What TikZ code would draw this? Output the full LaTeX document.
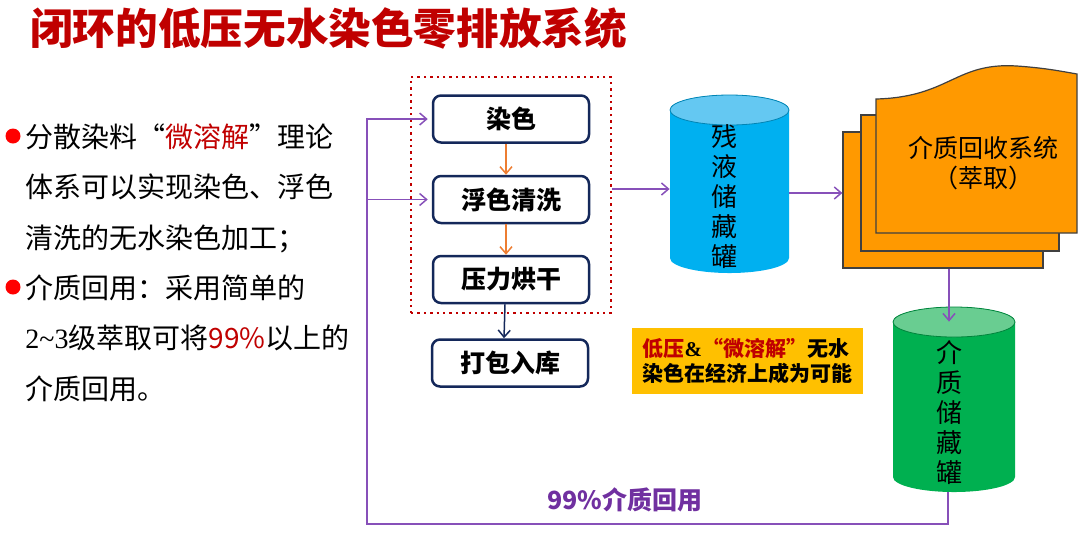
\documentclass[tikz,border=0pt]{standalone}
\usepackage{fontspec}
\setmainfont{Noto Sans CJK SC}
\newfontfamily\latinserif{Liberation Serif}
\usepackage{xcolor}
\usetikzlibrary{arrows.meta, positioning}
\definecolor{titlered}{RGB}{192,0,0}
\definecolor{boxnavy}{RGB}{20,40,90}
\definecolor{steporange}{RGB}{237,125,49}
\definecolor{loopline}{RGB}{135,80,185}
\definecolor{looptext}{RGB}{112,48,160}
\definecolor{tankblue}{RGB}{0,176,240}
\definecolor{tankbluetop}{RGB}{100,200,242}
\definecolor{tankgreen}{RGB}{0,176,80}
\definecolor{tankgreentop}{RGB}{105,205,145}
\definecolor{pageorange}{RGB}{255,153,0}
\definecolor{noteyellow}{RGB}{255,192,0}

\begin{document}
\begin{tikzpicture}[x=0.5pt,y=-0.5pt,
  >={Straight Barb[length=3.5pt,width=6pt]},
  stepbox/.style={draw=boxnavy, line width=1.25pt, rounded corners=4pt,
    fill=white, minimum width=78pt, minimum height=23.5pt, inner sep=0,
    font=\fontsize{12.5}{14}\selectfont\bfseries},
  tank/.style={minimum width=59.5pt, minimum height=89pt, inner sep=0},
  tanklabel/.style={align=center, inner sep=0,
    font=\fontsize{13}{15}\selectfont},
  page/.style={draw=black!75, line width=0.6pt, fill=pageorange,
    minimum width=100pt, minimum height=68pt, inner sep=0},
  flow/.style={->, loopline, line width=0.75pt}]
  \useasboundingbox (0,0) rectangle (1080,532);

  % title
  \node[anchor=west, inner sep=0, text=titlered,
    font=\fontsize{21.3}{24}\selectfont\bfseries] (title) at (30,28)
    {闭环的低压无水染色零排放系统};

  % left text
  \foreach \ln [count=\i] in {%
      {分散染料“{\color{titlered}微溶解}”理论},
      {体系可以实现染色、浮色},
      {清洗的无水染色加工；},
      {介质回用：采用简单的},
      {{\latinserif 2\char`\~3}级萃取可将{\color{titlered}99\%}以上的},
      {介质回用。}}
    \node[anchor=base west, inner sep=0, font=\fontsize{14}{16}\selectfont]
      (line\i) at (25,{147.6+50.3*(\i-1)}) {\ln};
  \node[circle, fill=red, minimum size=7.5pt, inner sep=0] (dot1) at (13,136) {};
  \node[circle, fill=red, minimum size=7.5pt, inner sep=0] (dot2) at (13,287) {};

  % dyeing line
  \node[draw=titlered, dotted, line width=1.2pt, minimum width=100pt,
    minimum height=118pt, inner sep=0] (line) at (511,195) {};
  \node[stepbox] (dye) at (511,119) {染色};
  \node[stepbox] (wash) at (511,199.5) {浮色清洗};
  \node[stepbox] (dry) at (511,279.5) {压力烘干};
  \node[stepbox] (pack) at (510,363) {打包入库};
  \draw[->, steporange, line width=0.75pt] ([xshift=-2.5pt]dye.south) -- ([xshift=-2.5pt]wash.north);
  \draw[->, steporange, line width=0.75pt] ([xshift=-2.5pt]wash.south) -- ([xshift=-2.5pt]dry.north);
  \draw[->, boxnavy, line width=0.75pt] ([xshift=-3pt]dry.south) -- ([xshift=-3pt]pack.north);

  % residue tank
  \node[tank] (resid) at (729.5,184) {};
  \fill[tankblue] (670,110) -- (670,258)
    arc[start angle=180, end angle=360, x radius=29.75pt, y radius=7.5pt]
    -- (789,110)
    arc[start angle=0, end angle=180, x radius=29.75pt, y radius=7.5pt] -- cycle;
  \filldraw[fill=tankbluetop, draw=tankblue!75!black, line width=0.4pt]
    (729.5,110) ellipse[x radius=29.75pt, y radius=7.5pt];
  \node[tanklabel] (residtxt) at (724,197) {残\\液\\储\\藏\\罐};

  % recovery system
  \node[page] (recback) at (943,200) {};
  \node[page, minimum width=99pt] (recmid) at (960,183) {};
  \draw[draw=black!75, line width=0.6pt, fill=pageorange]
    (876,233) -- (876,99) .. controls (950,97) and (955,62) .. (1017,66)
    .. controls (1045,68) and (1060,71) .. (1077,74) -- (1077,233) -- cycle;
  \node[align=center, inner sep=0, font=\fontsize{12.5}{15}\selectfont]
    (rectxt) at (983,163) {介质回收系统\\（萃取）};

  % medium tank
  \node[tank, minimum width=61pt, minimum height=92.5pt] (medium) at (954,399.5) {};
  \fill[tankgreen] (893,322) -- (893,477)
    arc[start angle=180, end angle=360, x radius=30.5pt, y radius=7.5pt]
    -- (1015,322)
    arc[start angle=0, end angle=180, x radius=30.5pt, y radius=7.5pt] -- cycle;
  \filldraw[fill=tankgreentop, draw=tankgreen!75!black, line width=0.4pt]
    (954,322) ellipse[x radius=30.5pt, y radius=7.5pt];
  \node[tanklabel] (mediumtxt) at (949,413) {介\\质\\储\\藏\\罐};

  \node[fill=noteyellow, minimum width=115.5pt, minimum height=30pt,
    inner sep=5pt, align=left, font=\fontsize{10.5}{12.5}\selectfont\bfseries]
    (note) at (747.5,361)
    {{\color{titlered}低压}{\latinserif\&}{\color{titlered}“微溶解”}无水\\
     染色在经济上成为可能};

  % connectors
  \coordinate (lineout) at ([yshift=3pt]line.east);
  \draw[flow] (lineout) -- (lineout -| resid.west);
  \coordinate (residout) at ([yshift=-4.5pt]resid.east);
  \draw[flow] (residout) -- (residout -| recback.west);
  \coordinate (recout) at ([xshift=3pt]recback.south);
  \draw[flow] (recout) -- ([yshift=-7.5pt]recout |- medium.north);
  \coordinate (retcorner) at (367,524);
  \draw[flow] ([xshift=-3pt]medium.south) |- (retcorner) |- ([xshift=-2pt]dye.west);
  \draw[flow] (retcorner |- wash.west) -- ([xshift=-2pt]wash.west);
  \node[text=looptext, inner sep=0, font=\fontsize{12.5}{14}\selectfont\bfseries]
    (looplbl) at (625,500) {99\%介质回用};
\end{tikzpicture}
\end{document}
